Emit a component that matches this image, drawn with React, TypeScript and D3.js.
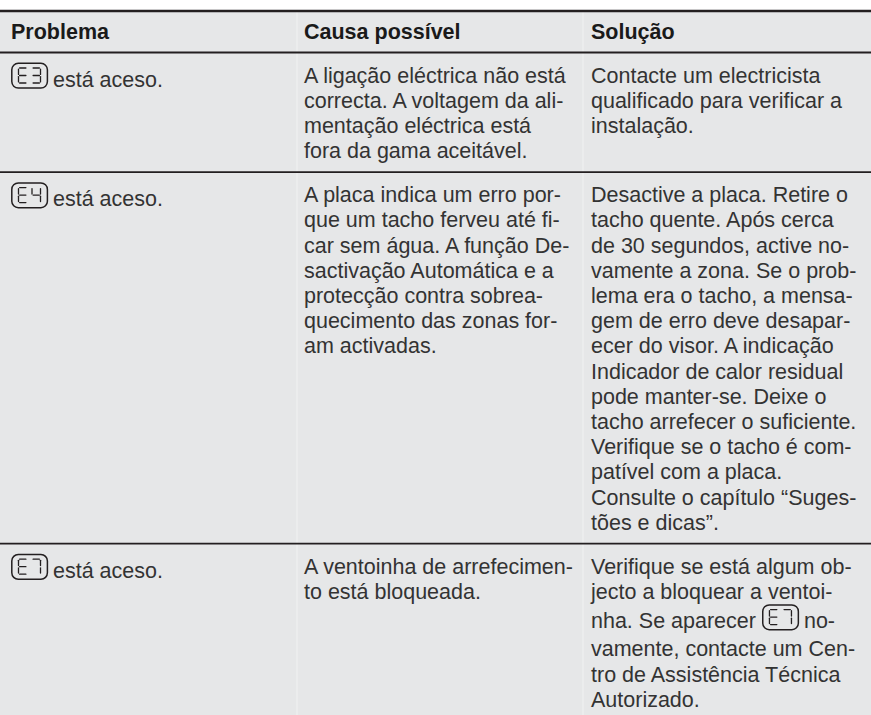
import { useEffect, useRef } from 'react'
import * as d3 from 'd3'

// table content, line breaks as in the printed manual
const headers = ['Problema', 'Causa possível', 'Solução']

const problems = [['{E3} está aceso.'], ['{E4} está aceso.'], ['{E7} está aceso.']]

const causes = [
	[
		'A ligação eléctrica não está',
		'correcta. A voltagem da ali-',
		'mentação eléctrica está',
		'fora da gama aceitável.',
	],
	[
		'A placa indica um erro por-',
		'que um tacho ferveu até fi-',
		'car sem água. A função De-',
		'sactivação Automática e a',
		'protecção contra sobrea-',
		'quecimento das zonas for-',
		'am activadas.',
	],
	['A ventoinha de arrefecimen-', 'to está bloqueada.'],
]

const solutions = [
	['Contacte um electricista', 'qualificado para verificar a', 'instalação.'],
	[
		'Desactive a placa. Retire o',
		'tacho quente. Após cerca',
		'de 30 segundos, active no-',
		'vamente a zona. Se o prob-',
		'lema era o tacho, a mensa-',
		'gem de erro deve desapar-',
		'ecer do visor. A indicação',
		'Indicador de calor residual',
		'pode manter-se. Deixe o',
		'tacho arrefecer o suficiente.',
		'Verifique se o tacho é com-',
		'patível com a placa.',
		'Consulte o capítulo “Suges-',
		'tões e dicas”.',
	],
	[
		'Verifique se está algum ob-',
		'jecto a bloquear a ventoi-',
		'nha. Se aparecer {E7} no-',
		'vamente, contacte um Cen-',
		'tro de Assistência Técnica',
		'Autorizado.',
	],
]

const W = 871
const H = 715
const FONT = '"Liberation Sans", Arial, Helvetica, sans-serif'
const FS = 21.5
const LH = 25.2
const INK = '#231f20'
const TEXT = '#333'

// seven segment parts used by the display icons
const SEGS = { E: 'adefg', '3': 'abcdg', '4': 'bcfg', '7': 'abc' }

const drawIcon = (g, x, baseline, code) => {
	const ic = g.append('g').attr('transform', `translate(${x},${baseline - 24})`)
	ic.append('rect')
		.attr('x', 0.8)
		.attr('y', 0.8)
		.attr('width', 35.6)
		.attr('height', 24.8)
		.attr('rx', 6.5)
		.attr('fill', 'none')
		.attr('stroke', INK)
		.attr('stroke-width', 1.5)
	code.split('').forEach((ch, i) => {
		const ox = 7.5 + i * 13.5
		const oy = 5.5
		const w = 8.5
		const h = 15
		const gp = 1.1
		const pts = {
			a: [gp, 0, w - gp, 0],
			b: [w, gp, w, h / 2 - gp],
			c: [w, h / 2 + gp, w, h - gp],
			d: [gp, h, w - gp, h],
			e: [0, h / 2 + gp, 0, h - gp],
			f: [0, gp, 0, h / 2 - gp],
			g: [gp, h / 2, w - gp, h / 2],
		}
		;(SEGS[ch] || '').split('').forEach((s) => {
			const p = pts[s]
			ic.append('line')
				.attr('x1', ox + p[0])
				.attr('y1', oy + p[1])
				.attr('x2', ox + p[2])
				.attr('y2', oy + p[3])
				.attr('stroke', INK)
				.attr('stroke-width', 1.3)
				.attr('stroke-linecap', 'round')
		})
	})
}

// baselines of a cell, lines holding an icon get a little extra room
const cellBaselines = (lines, top) => {
	let y = top + 30
	return lines.map((l) => {
		const hasIcon = /\{E\d\}/.test(l)
		if (hasIcon) y += 4
		const b = y
		y += hasIcon ? LH + 3 : LH
		return b
	})
}

const App = () => {
	const svgRef = useRef()

	useEffect(() => {
		const svg = d3.select(svgRef.current)
		svg.selectAll('*').remove()

		const colX = d3.scaleOrdinal().domain([0, 1, 2]).range([11, 304, 591])
		const sepX = [297, 583]

		// grey panel below the top rule
		svg.append('rect').attr('x', 0).attr('y', 11).attr('width', W).attr('height', H - 11).attr('fill', '#e6e7e8')

		const headerTop = 11
		const headerBottom = 52.5

		// rows
		const rows = problems.map((p, i) => [p, causes[i], solutions[i]])
		let top = headerBottom
		const rowLines = []
		const g = svg.append('g')

		rows.forEach((cells) => {
			let bottom = top
			cells.forEach((lines, c) => {
				const bases = cellBaselines(lines, top)
				bottom = Math.max(bottom, bases[bases.length - 1] + 14)
				lines.forEach((line, li) => {
					const parts = line.split(/(\{E\d\})/).filter((s) => s.length)
					let x = colX(c)
					parts.forEach((part, pi) => {
						const m = part.match(/^\{(E\d)\}$/)
						if (m) {
							if (pi > 0) x += 6
							drawIcon(g, x, bases[li], m[1])
							x += 37 + 5
						} else {
							const t = g
								.append('text')
								.attr('x', x)
								.attr('y', bases[li])
								.attr('font-family', FONT)
								.attr('font-size', FS)
								.attr('fill', TEXT)
								.text(part.trim())
							x += t.node().getComputedTextLength()
						}
					})
				})
			})
			rowLines.push(bottom)
			top = bottom
		})

		// faint column separators
		sepX.forEach((x) =>
			svg.append('line')
				.attr('x1', x)
				.attr('x2', x)
				.attr('y1', headerTop)
				.attr('y2', H)
				.attr('stroke', '#f1f2f2')
				.attr('stroke-width', 1)
		)

		// header
		headers.forEach((h, i) =>
			svg.append('text')
				.attr('x', colX(i))
				.attr('y', 39)
				.attr('font-family', FONT)
				.attr('font-size', FS)
				.attr('font-weight', 'bold')
				.attr('fill', '#1a1a1a')
				.text(h)
		)

		// rules
		svg.append('line')
			.attr('x1', 0).attr('x2', W)
			.attr('y1', headerTop).attr('y2', headerTop)
			.attr('stroke', INK).attr('stroke-width', 2.5)
		;[headerBottom, ...rowLines.slice(0, -1)].forEach((y) =>
			svg.append('line')
				.attr('x1', 0).attr('x2', W)
				.attr('y1', y).attr('y2', y)
				.attr('stroke', INK).attr('stroke-width', 1.8)
		)
	}, [])

	return (
		<svg
			ref={svgRef}
			width={W}
			height={H}
			style={{ position: 'absolute', left: 0, top: 0, background: '#fff' }}
		></svg>
	)
}

export default App
